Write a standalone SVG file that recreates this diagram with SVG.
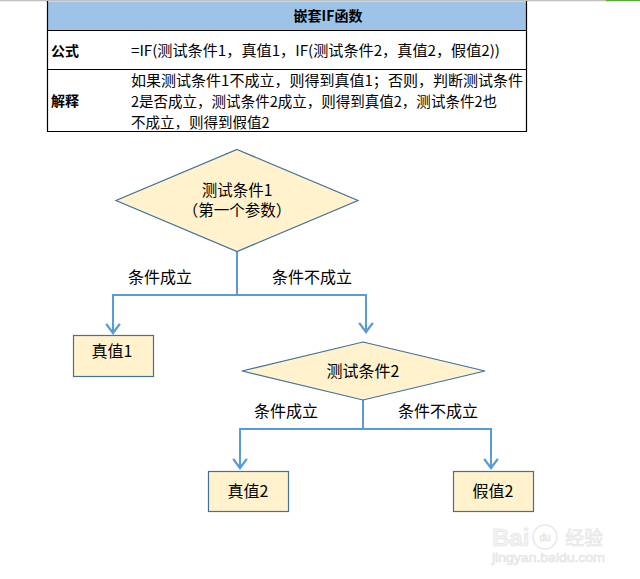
<svg xmlns="http://www.w3.org/2000/svg" width="640" height="579" viewBox="0 0 640 579">
<defs>
<style>
.t{font-family:"Noto Sans CJK SC","Liberation Sans",sans-serif;fill:#000;}
.tb{font-family:"Noto Sans CJK SC","Liberation Sans",sans-serif;fill:#000;font-weight:bold;font-size:14px;}
.node{fill:#FFF2CC;stroke:#41719C;stroke-width:1.2;}
.conn{fill:none;stroke:#5B9BD5;stroke-width:2;}
.grid{stroke:#000;stroke-width:1.2;fill:none;}
.wm{font-family:"Liberation Sans","Noto Sans CJK SC",sans-serif;fill:#f2f2f2;stroke:#e4e4e4;stroke-width:0.6;}
</style>
<marker id="arr" markerUnits="userSpaceOnUse" markerWidth="16" markerHeight="16" refX="9" refY="7" orient="auto" viewBox="0 0 12 14">
<path d="M1,1 L9,7 L1,13" fill="none" stroke="#5B9BD5" stroke-width="2"/>
</marker>
</defs>
<rect width="640" height="579" fill="#fff"/>
<line x1="0" y1="0.5" x2="606" y2="0.5" stroke="#c0c0c0" stroke-width="1.5"/>
<line x1="606" y1="0.5" x2="640" y2="0.5" stroke="#5aaa3a" stroke-width="1.5"/>

<g id="table">
<rect x="47.5" y="1.5" width="479" height="29" fill="#9DC3E6"/>
<line class="grid" x1="47.5" y1="1" x2="47.5" y2="131.5"/>
<line class="grid" x1="526.5" y1="1" x2="526.5" y2="131.5"/>
<line class="grid" x1="47" y1="30.5" x2="527" y2="30.5"/>
<line class="grid" x1="47" y1="69.5" x2="527" y2="69.5"/>
<line class="grid" x1="47" y1="131.5" x2="527" y2="131.5"/>
<text class="tb" x="328" y="21" text-anchor="middle">嵌套IF函数</text>
<text class="tb" x="51" y="56">公式</text>
<text class="tb" x="51" y="106">解释</text>
<text class="t" x="131" y="56" font-size="14.5" textLength="369" lengthAdjust="spacingAndGlyphs">=IF(测试条件1，真值1，IF(测试条件2，真值2，假值2))</text>
<text class="t" x="131" y="86" font-size="14.5" textLength="392" lengthAdjust="spacingAndGlyphs">如果测试条件1不成立，则得到真值1；否则，判断测试条件</text>
<text class="t" x="131" y="107" font-size="14.5" textLength="366" lengthAdjust="spacingAndGlyphs">2是否成立，测试条件2成立，则得到真值2，测试条件2也</text>
<svg x="0" y="0" width="640" height="129.5" overflow="hidden">
<text class="t" x="131" y="128" font-size="14.5">不成立，则得到假值2</text>
</svg>
</g>

<g id="connectors">
<polyline class="conn" points="237,252 237,295 113,295 113,333" marker-end="url(#arr)"/>
<polyline class="conn" points="237,295 366,295 366,332" marker-end="url(#arr)"/>
<polyline class="conn" points="363,400 363,429 240,429 240,468" marker-end="url(#arr)"/>
<polyline class="conn" points="363,429 491,429 491,468" marker-end="url(#arr)"/>
<text class="t" x="160" y="283" font-size="16" text-anchor="middle">条件成立</text>
<text class="t" x="312" y="283" font-size="16" text-anchor="middle">条件不成立</text>
<text class="t" x="286" y="417" font-size="16" text-anchor="middle">条件成立</text>
<text class="t" x="438" y="417" font-size="16" text-anchor="middle">条件不成立</text>
</g>

<g id="cond1">
<polygon class="node" points="237,149.5 358,200.5 237,251.5 116,200.5"/>
<text class="t" x="237" y="196" font-size="15.5" text-anchor="middle">测试条件1</text>
<text class="t" x="237" y="216" font-size="15.5" text-anchor="middle">（第一个参数）</text>
</g>

<g id="true1">
<rect class="node" x="73.5" y="335.5" width="80" height="41"/>
<text class="t" x="112" y="357" font-size="16" text-anchor="middle">真值1</text>
</g>

<g id="cond2">
<polygon class="node" points="363,342 485,371 363,400 242,371"/>
<text class="t" x="363" y="377" font-size="16" text-anchor="middle">测试条件2</text>
</g>

<g id="true2">
<rect class="node" x="208.5" y="471.5" width="80" height="40"/>
<text class="t" x="248" y="497" font-size="16" text-anchor="middle">真值2</text>
</g>

<g id="false2">
<rect class="node" x="453.5" y="471.5" width="80" height="40"/>
<text class="t" x="493" y="497" font-size="16" text-anchor="middle">假值2</text>
</g>

<g id="watermark">
<text class="wm" x="492" y="546" font-size="24" font-weight="bold">Bai</text>
<circle cx="545" cy="537" r="12" fill="none" stroke="#e8e8e8" stroke-width="1.5"/>
<text class="wm" x="545" y="541" font-size="10" text-anchor="middle">du</text>
<text class="wm" x="565" y="545" font-size="19" font-family="Noto Sans CJK SC,sans-serif">经验</text>
<text class="wm" x="492" y="562" font-size="12.5" textLength="113" lengthAdjust="spacingAndGlyphs">jingyan.baidu.com</text>
</g>
</svg>
